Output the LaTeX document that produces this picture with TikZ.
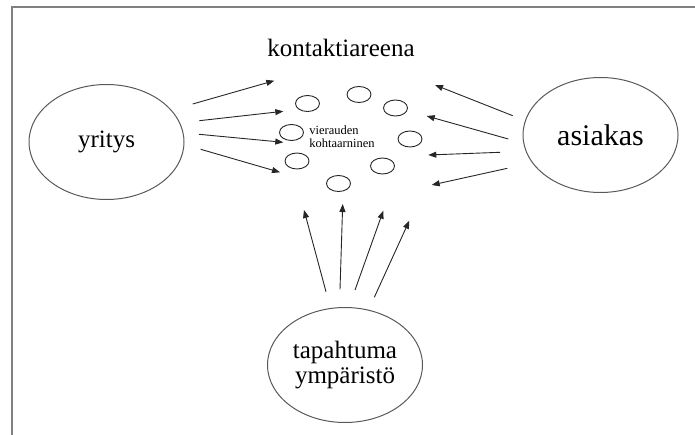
\documentclass[tikz,border=0pt]{standalone}
\usepackage{fontspec}
\setmainfont{Liberation Serif}
\usetikzlibrary{shapes.geometric,arrows.meta}
\tikzset{
  bigell/.style={ellipse, draw=black!65, line width=1pt, minimum width=155pt, minimum height=115pt, inner sep=0pt, align=center},
  smallell/.style={ellipse, draw=black!85, line width=0.9pt, minimum width=24pt, minimum height=16pt, inner sep=0pt},
  arr/.style={draw=black!85, line width=0.9pt, -{Triangle[length=8pt,width=6pt]}},
  frame/.style={draw=black!50, line width=2pt}
}
\begin{document}
\begin{tikzpicture}[x=1pt,y=-1pt]
\useasboundingbox (0,0) rectangle (695,435);
\draw[frame] (12,435) -- (12,7) -- (695,7);
% main nodes
\node[bigell, font=\fontsize{25}{28}\selectfont] (yritys) at (106.5,142) {yritys};
\node[bigell, font=\fontsize{30}{33}\selectfont] (asiakas) at (600.5,135) {asiakas};
\node[bigell, font=\fontsize{25}{25}\selectfont] (ymp) at (345,365) {tapahtuma\\ympäristö};
\node[font=\fontsize{25}{28}\selectfont, inner sep=0pt] (arena) at (341,48) {kontaktiareena};
\node[font=\fontsize{12.5}{13}\selectfont, inner sep=0pt, align=left] (vk) at (342,137) {vierauden\\kohtaarninen};
% small circles
\node[smallell] (c1) at (307.5,103.5) {};
\node[smallell] (c2) at (359,94.5) {};
\node[smallell] (c3) at (395.5,108) {};
\node[smallell] (c4) at (291.5,132.5) {};
\node[smallell] (c5) at (410,139) {};
\node[smallell] (c6) at (297,161) {};
\node[smallell] (c7) at (382.5,166) {};
\node[smallell] (c8) at (338.5,183.5) {};
% arrow end points
\coordinate (l1s) at (192.7,104);   \coordinate (l1e) at (274.3,80.7);
\coordinate (l2s) at (199.3,120.7); \coordinate (l2e) at (283.3,111.3);
\coordinate (l3s) at (199,134.3);   \coordinate (l3e) at (283.3,142.3);
\coordinate (l4s) at (200.7,149.3); \coordinate (l4e) at (280,172.3);
\coordinate (r1s) at (512.7,115.7); \coordinate (r1e) at (435,85);
\coordinate (r2s) at (508.3,139);   \coordinate (r2e) at (426.7,116);
\coordinate (r3s) at (500,152.3);   \coordinate (r3e) at (428.3,155);
\coordinate (r4s) at (507.3,168.3); \coordinate (r4e) at (431.7,185);
\coordinate (b1s) at (326,291.7);   \coordinate (b1e) at (304,210);
\coordinate (b2s) at (340,289.3);   \coordinate (b2e) at (342.7,204);
\coordinate (b3s) at (355,290);     \coordinate (b3e) at (383.3,210.7);
\coordinate (b4s) at (374.3,297.3); \coordinate (b4e) at (409.3,220.7);
\foreach \a in {l1,l2,l3,l4,r1,r2,r3,r4,b1,b2,b3,b4}
  \draw[arr] (\a s) -- (\a e);
\end{tikzpicture}
\end{document}
